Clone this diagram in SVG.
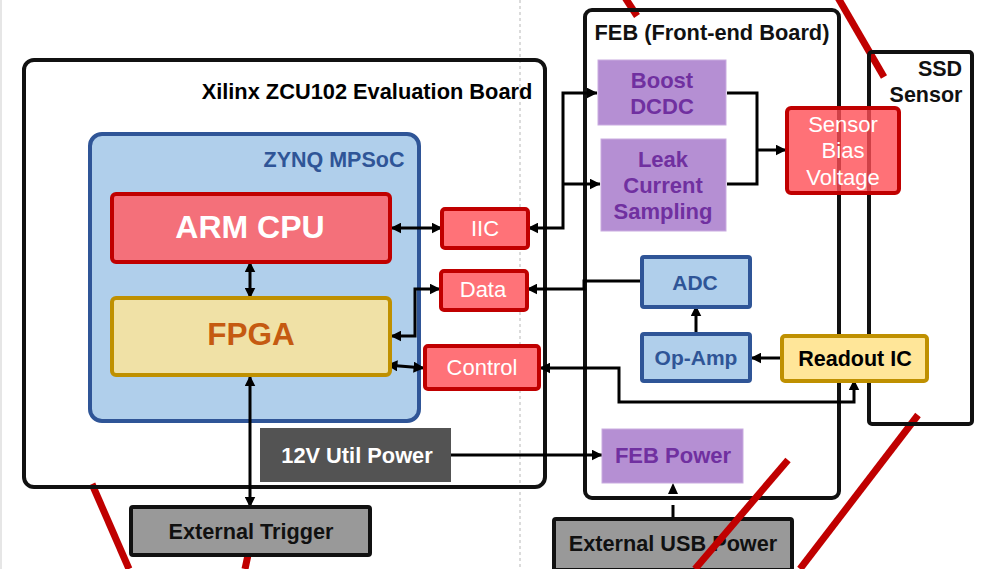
<svg xmlns="http://www.w3.org/2000/svg" width="986" height="569" viewBox="0 0 986 569">
<style>
text{font-family:"Liberation Sans",Arial,sans-serif;text-anchor:middle}
.b{font-weight:700}
.board{fill:none;stroke:#111;stroke-width:4}
.red{fill:#ff7278;stroke:#c00000;stroke-width:4}
.rt{fill:#fff;font-size:22px}
.pur{fill:#b58fd3;stroke:#c9abe0;stroke-width:1}
.pt{fill:#7030a0;font-size:22px;font-weight:700}
.blue{fill:#b0cfeb;stroke:#2f5597;stroke-width:4}
.bt{fill:#2f5597;font-size:21px;font-weight:700}
.gray{fill:#999;stroke:#111;stroke-width:4}
.slash{stroke:#c00000;stroke-width:7;fill:none}
.c{fill:none;stroke:#000;stroke-width:3}
</style>
<defs>
<marker id="a" viewBox="0 0 10 10" refX="9.5" refY="5" markerWidth="11" markerHeight="11" markerUnits="userSpaceOnUse" orient="auto-start-reverse"><path d="M0 0L10 5L0 10z" fill="#000"/></marker>
</defs>
<rect x="0" y="0" width="986" height="569" fill="#fff"/>
<rect x="0" y="0" width="2" height="569" fill="#e6e6e6"/>
<path d="M520 0V569" stroke="#c4c4c4" stroke-width="1.2" stroke-dasharray="3 3" fill="none"/>

<g id="slashes">
<path class="slash" d="M92 484L129 569"/>
<path class="slash" d="M248 555L245 569"/>
<path class="slash" d="M624 -4L637 16"/>
<path class="slash" d="M837 -4L884 77"/>
<path class="slash" d="M918 415L800 569"/>
</g>

<g id="xilinx-board"><rect class="board" x="24" y="60" width="521" height="427" rx="10"/>
<text class="b" x="367" y="99" font-size="21.8" fill="#000">Xilinx ZCU102 Evaluation Board</text></g>
<g id="feb"><rect class="board" x="585" y="10" width="254" height="488" rx="7"/>
<text class="b" x="712" y="40" font-size="21.8" fill="#111">FEB (Front-end Board)</text></g>
<g id="ssd"><rect class="board" x="869" y="52" width="103" height="372" rx="3"/>
<text class="b" x="940" y="76" font-size="21.5" fill="#111">SSD</text>
<text class="b" x="926" y="102" font-size="21.5" fill="#111">Sensor</text></g>

<g id="zynq"><rect class="blue" x="90" y="134" width="329" height="287" rx="12"/>
<text x="334" y="167" font-size="21.5" font-weight="700" fill="#2f5597">ZYNQ MPSoC</text></g>

<g id="connectors">
<path class="c" d="M250 262V298" marker-start="url(#a)" marker-end="url(#a)"/>
<path class="c" d="M391 228H442" marker-start="url(#a)" marker-end="url(#a)"/>
<path class="c" d="M391 336H415V289H440" marker-start="url(#a)" marker-end="url(#a)"/>
<path class="c" d="M387 365L424 368" marker-start="url(#a)" marker-end="url(#a)"/>
<path class="c" d="M250 376V507" marker-start="url(#a)" marker-end="url(#a)"/>
<path class="c" d="M528 228H563V93H597" marker-start="url(#a)" marker-end="url(#a)"/>
<path class="c" d="M563 184H600" marker-end="url(#a)"/>
<path class="c" d="M727 93H757V184H727"/>
<path class="c" d="M756 150H786" marker-end="url(#a)"/>
<path class="c" d="M641 281H584V289H527" marker-end="url(#a)"/>
<path class="c" d="M696 333V306" marker-end="url(#a)"/>
<path class="c" d="M781 358H751" marker-end="url(#a)"/>
<path class="c" d="M540 368H619V402H854V380" marker-start="url(#a)" marker-end="url(#a)"/>
<path class="c" d="M451 455H602" marker-end="url(#a)"/>
<path class="c" d="M673 518V505"/>
<path d="M668 494H678L673 483z" fill="#000"/>
</g>

<g id="arm-cpu"><rect x="112" y="194" width="278" height="68" rx="4" fill="#f4707a" stroke="#c00000" stroke-width="4"/>
<text class="b" x="250" y="238" font-size="32" fill="#fff">ARM CPU</text></g>
<g id="fpga"><rect x="112" y="298" width="278" height="77" rx="4" fill="#f0e1a6" stroke="#bf9000" stroke-width="4"/>
<text class="b" x="251" y="345" font-size="31.5" fill="#c55a11">FPGA</text></g>
<g id="iic"><rect class="red" x="442" y="209" width="86" height="39" rx="3"/><text class="rt" x="485" y="236">IIC</text></g>
<g id="data"><rect class="red" x="441" y="271" width="86" height="39" rx="3"/><text class="rt" x="483" y="297">Data</text></g>
<g id="control"><rect class="red" x="425" y="346" width="114" height="43" rx="3"/><text class="rt" x="482" y="375">Control</text></g>
<g id="util-power"><rect x="260" y="428" width="191" height="54" fill="#535353"/><text class="b" x="357" y="463" font-size="21.8" fill="#fff">12V Util Power</text></g>
<g id="external-trigger"><rect class="gray" x="131" y="507" width="239" height="48" rx="2"/><text class="b" x="251" y="539" font-size="21.7" fill="#111">External Trigger</text></g>
<g id="usb-power"><rect class="gray" x="554" y="519" width="238" height="51" rx="2"/><text class="b" x="673" y="551" font-size="21.7" fill="#111">External USB Power</text></g>
<path class="slash" d="M788 460L695 569"/>

<g id="boost"><rect class="pur" x="598" y="60" width="128" height="65"/><text class="pt" x="662" y="88">Boost</text><text class="pt" x="662" y="114">DCDC</text></g>
<g id="leak"><rect class="pur" x="601" y="139" width="125" height="92"/><text class="pt" x="663" y="167">Leak</text><text class="pt" x="663" y="193">Current</text><text class="pt" x="663" y="219">Sampling</text></g>
<g id="feb-power"><rect class="pur" x="602" y="429" width="141" height="54"/><text class="pt" x="673" y="463">FEB Power</text></g>
<g id="bias"><rect x="787" y="108" width="112" height="85" rx="4" fill="#ff4d55" fill-opacity=".8" stroke="#c00000" stroke-width="4"/>
<text class="rt" x="843" y="132">Sensor</text><text class="rt" x="843" y="158">Bias</text><text class="rt" x="843" y="185">Voltage</text></g>
<g id="adc"><rect class="blue" x="642" y="257" width="108" height="50" rx="2"/><text class="bt" x="695" y="290">ADC</text></g>
<g id="opamp"><rect class="blue" x="642" y="334" width="108" height="47" rx="2"/><text class="bt" x="696" y="365">Op-Amp</text></g>
<g id="readout"><rect x="782" y="336" width="145" height="45" rx="3" fill="#ffe699" stroke="#bf9000" stroke-width="4"/><text class="b" x="855" y="366" font-size="21.5" fill="#000">Readout IC</text></g>
</svg>
